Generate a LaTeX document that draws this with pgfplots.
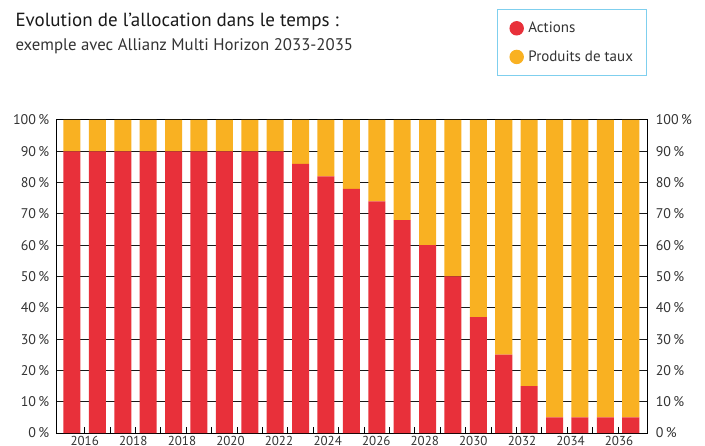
\documentclass[border=0pt]{standalone}
\usepackage{fontspec}
\setmainfont{PT Sans}
\usepackage{pgfplots}
\pgfplotsset{compat=1.18}
\definecolor{actred}{HTML}{E8303A}
\definecolor{tauxorange}{HTML}{F9B122}
\definecolor{legblue}{HTML}{7FCFEE}
\definecolor{txt}{HTML}{333333}
\begin{document}
\begin{tikzpicture}
\begin{axis}[
  name=ax,
  scale only axis, width=590pt, height=313pt,
  xmin=-0.59, xmax=22.64, ymin=0, ymax=100,
  ybar stacked, bar width=0.67,
  /pgf/number format/assume math mode=true,
  ytick={0,10,...,100},
  yticklabel={\pgfmathprintnumber{\tick}\,\%},
  yticklabel style={font=\fontsize{14}{14}\selectfont, text=txt, xshift=-4.3pt},
  ymajorgrids, grid style={black!90, line width=1pt},
  xtick={0.5,2.41,4.33,6.24,8.15,10.07,11.98,13.89,15.8,17.72,19.63,21.54},
  xticklabels={2016,2018,2018,2020,2022,2024,2026,2028,2030,2032,2034,2036},
  xticklabel style={font=\fontsize{13}{13}\selectfont, text=txt},
  minor xtick={0.5,1.5,...,21.5},
  major tick length=0pt, minor tick length=6pt,
  tick align=inside, xtick pos=bottom, ytick pos=left,
  tick style={black, line width=1pt},
  axis line style={black, line width=1pt},
  legend style={at={(1,1)}, anchor=south east, yshift=44pt, draw=legblue, line width=1pt,
    font=\fontsize{15}{15}\selectfont, text=txt, inner xsep=11.5pt, inner ysep=10.5pt,
    row sep=12.5pt, cells={anchor=west}},
]
\addplot[fill=actred, draw=none, forget plot] coordinates {
(0,90) (1,90) (2,90) (3,90) (4,90) (5,90) (6,90) (7,90) (8,90)
(9,86) (10,82) (11,78) (12,74) (13,68) (14,60) (15,50) (16,37) (17,25) (18,15)
(19,5) (20,5) (21,5) (22,5)};
\addplot[fill=tauxorange, draw=none, forget plot] coordinates {
(0,10) (1,10) (2,10) (3,10) (4,10) (5,10) (6,10) (7,10) (8,10)
(9,14) (10,18) (11,22) (12,26) (13,32) (14,40) (15,50) (16,63) (17,75) (18,85)
(19,95) (20,95) (21,95) (22,95)};
\addlegendimage{legend image code/.code={\fill[actred] (0pt,0pt) circle (6.7pt); \path (9.2pt,0pt);}}
\addlegendentry{Actions}
\addlegendimage{legend image code/.code={\fill[tauxorange] (0pt,0pt) circle (6.7pt); \path (9.2pt,0pt);}}
\addlegendentry{Produits de taux}
\end{axis}
\begin{axis}[
  scale only axis, width=590pt, height=313pt,
  at={(ax.south west)}, anchor=south west,
  xmin=-0.59, xmax=22.64, ymin=0, ymax=100,
  axis x line=none, axis y line*=right,
  y axis line style={draw=none},
  /pgf/number format/assume math mode=true,
  ytick={0,10,...,100},
  yticklabel={\pgfmathprintnumber{\tick}\,\%},
  yticklabel style={font=\fontsize{14}{14}\selectfont, text=txt, xshift=5.3pt},
  major tick length=0pt, ytick style={draw=none},
]
\end{axis}
\node[anchor=base west, font=\fontsize{19}{19}\selectfont, text=black!90] at ([xshift=-45pt, yshift=93pt]ax.north west) {Evolution de l’allocation dans le temps :};
\node[anchor=base west, font=\fontsize{16.8}{16.8}\selectfont, text=txt] at ([xshift=-45pt, yshift=69pt]ax.north west) {exemple avec Allianz Multi Horizon 2033-2035};
\pgfresetboundingbox
\path[use as bounding box] ([xshift=-57pt,yshift=-12pt]ax.south west) rectangle ([xshift=58pt,yshift=120pt]ax.north east);
\end{tikzpicture}
\end{document}
